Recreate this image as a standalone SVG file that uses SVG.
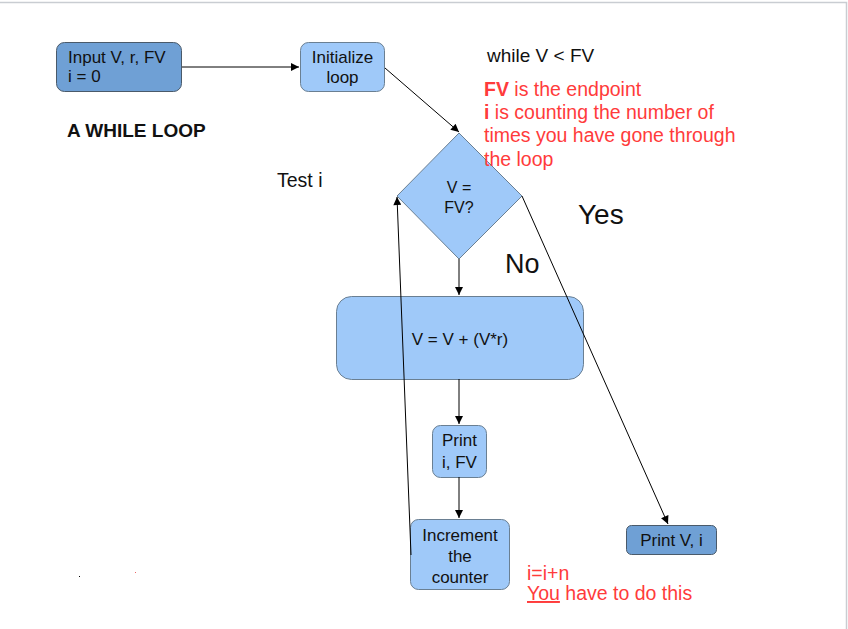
<svg xmlns="http://www.w3.org/2000/svg" width="848" height="629" viewBox="0 0 848 629">
<style>
.dk{fill:#6fa0d5;stroke:#4a5a6a;stroke-width:1}
.lt{fill:#9fc9f9;stroke:#6a7f92;stroke-width:1}
.t{font-family:"Liberation Sans",Arial,sans-serif;fill:#111}
.n{font-size:17px}
.r{font-family:"Liberation Sans",Arial,sans-serif;fill:#ff3b3b;font-size:19.5px}
.c{stroke:#000;stroke-width:1;fill:none}
</style>
<defs>
<marker id="ah" viewBox="0 0 10 10" refX="10" refY="5" markerWidth="10" markerHeight="8" markerUnits="userSpaceOnUse" orient="auto">
<path d="M0,0 L10,5 L0,10 z" fill="#000"/>
</marker>
</defs>
<rect width="848" height="629" fill="#fff"/>
<path d="M0,2.5 H846.5 V629" fill="none" stroke="#c9cdd2" stroke-width="1.5"/>
<g id="input">
<rect class="dk" x="56.5" y="42.5" width="125" height="49" rx="8"/>
<text class="t n" x="68" y="63">Input V, r, FV</text>
<text class="t n" x="68" y="82">i = 0</text>
</g>
<g id="init">
<rect class="lt" x="300.5" y="42.5" width="84" height="49" rx="8"/>
<text class="t n" x="342.5" y="63" text-anchor="middle">Initialize</text>
<text class="t n" x="342.5" y="83" text-anchor="middle">loop</text>
</g>
<g id="decision">
<polygon class="lt" points="459,133 522,196 459,259 397,196"/>
<text class="t" x="459" y="193" font-size="16" text-anchor="middle">V =</text>
<text class="t" x="459" y="213" font-size="16" text-anchor="middle">FV?</text>
</g>
<g id="update">
<rect class="lt" x="336.5" y="296.5" width="247" height="83" rx="15"/>
<text class="t n" x="460" y="345" text-anchor="middle">V = V + (V*r)</text>
</g>
<g id="printi">
<rect class="lt" x="432.5" y="425.5" width="54" height="52" rx="8"/>
<text class="t n" x="459.5" y="446" text-anchor="middle">Print</text>
<text class="t n" x="459.5" y="468" text-anchor="middle">i, FV</text>
</g>
<g id="increment">
<rect class="lt" x="410.5" y="519.5" width="99" height="70" rx="8"/>
<text class="t n" x="460" y="541" text-anchor="middle">Increment</text>
<text class="t n" x="460" y="562" text-anchor="middle">the</text>
<text class="t n" x="460" y="583" text-anchor="middle">counter</text>
</g>
<g id="printv">
<rect class="dk" x="626.5" y="525.5" width="90" height="29" rx="5"/>
<text class="t n" x="671.5" y="546" text-anchor="middle">Print V, i</text>
</g>
<g id="connectors">
<line class="c" x1="182" y1="67" x2="299" y2="67" marker-end="url(#ah)"/>
<line class="c" x1="385" y1="68" x2="459" y2="132" marker-end="url(#ah)"/>
<line class="c" x1="459" y1="259" x2="459" y2="295" marker-end="url(#ah)"/>
<line class="c" x1="459" y1="379" x2="459" y2="424" marker-end="url(#ah)"/>
<line class="c" x1="459" y1="477" x2="459" y2="518" marker-end="url(#ah)"/>
<line class="c" x1="411" y1="555" x2="397" y2="197" marker-end="url(#ah)"/>
<line class="c" x1="522" y1="196" x2="668" y2="524" marker-end="url(#ah)"/>
</g>
<g id="labels">
<text class="t" x="67" y="137" font-size="19" font-weight="bold">A WHILE LOOP</text>
<text class="t" x="277" y="187" font-size="19.5">Test i</text>
<text class="t" x="487" y="62" font-size="19">while V &lt; FV</text>
<text class="r" x="484" y="96"><tspan font-weight="bold">FV</tspan> is the endpoint</text>
<text class="r" x="484" y="119"><tspan font-weight="bold">i</tspan> is counting the number of</text>
<text class="r" x="484" y="142">times you have gone through</text>
<text class="r" x="484" y="166">the loop</text>
<text class="t" x="578" y="224" font-size="28">Yes</text>
<text class="t" x="505" y="273" font-size="27">No</text>
<text class="r" x="527" y="580">i=i+n</text>
<text class="r" x="527" y="600"><tspan text-decoration="underline">You</tspan> have to do this</text>
</g>
<rect x="79" y="576" width="1" height="1" fill="#000"/>
<rect x="135" y="572" width="1" height="1" fill="#e66"/>
</svg>
